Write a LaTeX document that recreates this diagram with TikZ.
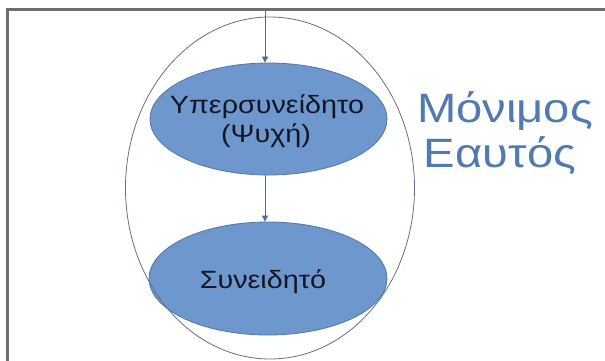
\documentclass[tikz,border=0pt]{standalone}
\usepackage{fontspec}
\setmainfont{Liberation Sans}
\newfontfamily\widefont[FakeStretch=1.15]{Liberation Sans}
\usetikzlibrary{shapes.geometric,arrows.meta}
\definecolor{blobfill}{RGB}{110,151,206}
\definecolor{blobline}{RGB}{84,118,168}
\definecolor{outerline}{RGB}{100,112,135}
\definecolor{arrowcol}{RGB}{72,108,160}
\definecolor{bigblue}{RGB}{80,122,176}
\definecolor{txtdark}{RGB}{20,22,35}
\definecolor{framegray}{RGB}{110,110,110}
\tikzset{
  blob/.style={ellipse, draw=blobline, line width=0.8pt, fill=blobfill, inner sep=0pt},
  outerell/.style={ellipse, draw=outerline, line width=0.8pt, inner sep=0pt},
  intext/.style={inner sep=0pt, text=txtdark, font=\widefont\fontsize{25}{25}\selectfont},
  bigtext/.style={inner sep=0pt, text=bigblue, font=\widefont\fontsize{41}{45}\selectfont},
  conn/.style={draw=arrowcol, line width=0.8pt, -{Triangle[length=6pt,width=6pt]}},
  frameline/.style={draw=framegray, line width=3pt}
}
\begin{document}
\begin{tikzpicture}[x=1pt,y=-1pt]
\useasboundingbox (0,0) rectangle (605,361);
\clip (0,0) rectangle (605,361);
\fill[white] (0,0) rectangle (605,361);
\draw[frameline] (7.5,400) |- (650,9.5);
% inner ellipses
\node[blob, minimum width=237pt, minimum height=112pt] (sup) at (268.5,119) {};
\node[blob, minimum width=238pt, minimum height=113pt] (con) at (268,278.5) {};
% texts
\node[intext, anchor=base] (supt1) at (267,113) {Υπερσυνείδητο};
\node[intext, anchor=base] (supt2) at (266,142) {(Ψυχή)};
\node[intext, anchor=base] (cont) at (263,288) {Συνειδητό};
% outer ellipse
\node[outerell, minimum width=289pt, minimum height=342pt] (outer) at (270,188) {};
% arrows
\coordinate (top) at (265,11);
\draw[conn] (top) -- (top |- sup.north);
\draw[conn] (top |- sup.south) -- (top |- con.north);
% big label
\node[bigtext, anchor=base] (mon) at (505,122) {Μόνιμος};
\node[bigtext, anchor=base] (eau) at (500,167) {Εαυτός};
\end{tikzpicture}
\end{document}
